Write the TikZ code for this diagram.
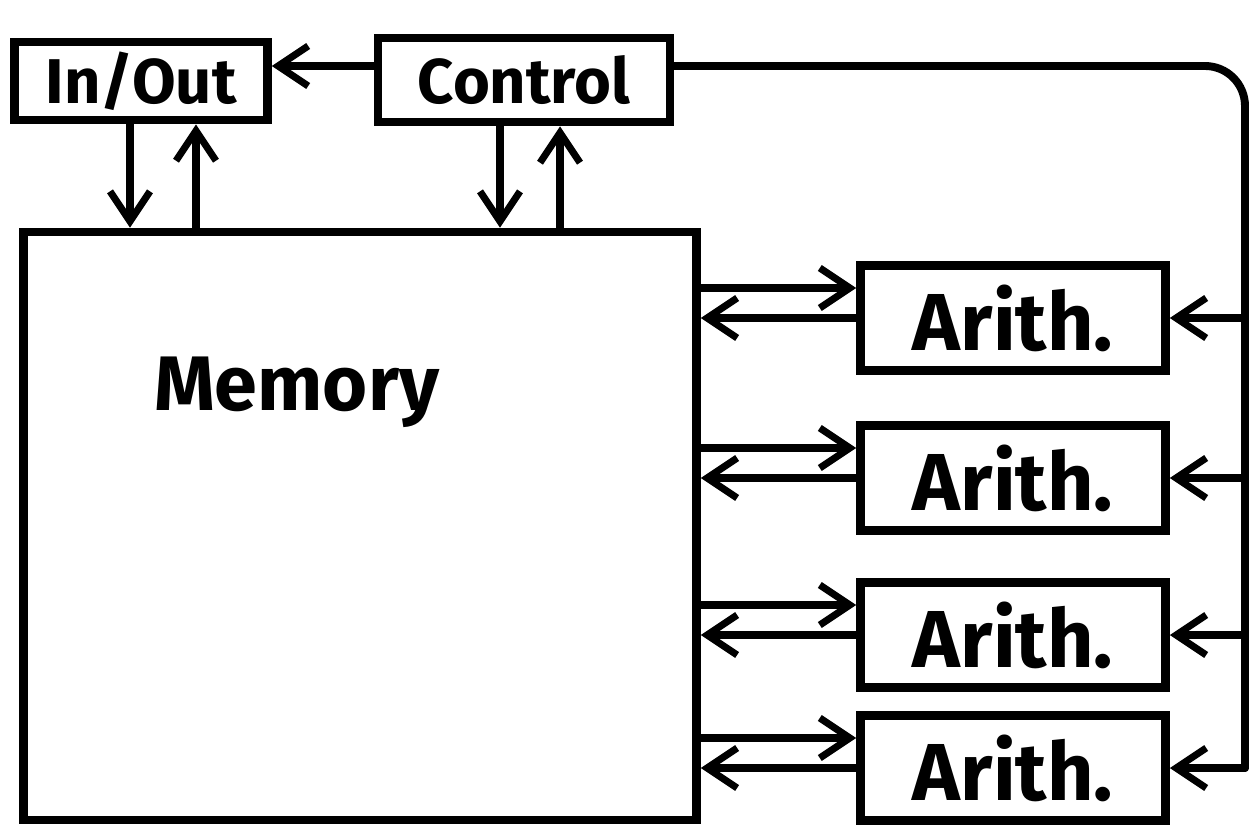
\documentclass[tikz,border=0pt]{standalone}
\usepackage{fontspec}
\setmainfont{Fira Sans}
\usepackage{tikz}
\usetikzlibrary{arrows.meta,positioning,calc}

\begin{document}
\begin{tikzpicture}[
  x=0.02cm, y=-0.02cm,
  box/.style={draw, line width=5pt, minimum width=6.1cm, minimum height=2.1cm, inner sep=0pt, align=center, font=\fontsize{46}{50}\selectfont\bfseries},
  topbox/.style={box, font=\fontsize{36}{40}\selectfont\bfseries},
  wire/.style={line width=4.5pt, line cap=round},
  arrow/.style={wire, -{Straight Barb[length=6mm, width=8mm, line width=4pt]}}
]
  \useasboundingbox (0,0) rectangle (1255,831);
  % top row
  \node[topbox, minimum width=5.06cm, minimum height=1.56cm] (io) at (141,81) {In/Out};
  \node[topbox, minimum width=5.84cm, minimum height=1.68cm] (ctrl) at (524,80) {Control};
  % memory block
  \node[box, minimum width=13.46cm, minimum height=11.76cm] (mem) at (360,526) {};
  \node[anchor=base west, font=\fontsize{44}{48}\selectfont\bfseries] (memtext) at (148,410) {Memory};
  % arithmetic units
  \node[box] (a1) at (1013,318) {Arith.};
  \node[box] (a2) at (1013,478) {Arith.};
  \node[box] (a3) at (1013,635) {Arith.};
  \node[box] (a4) at (1013,768) {Arith.};
  \coordinate (busT) at (1245,66);
  % connectors
  \draw[arrow] (ctrl.west |- busT) -- (io.east |- busT);
  \draw[arrow] (io.south -| 130,0) -- (mem.north -| 130,0);
  \draw[arrow] (mem.north -| 196,0) -- (io.south -| 196,0);
  \draw[arrow] (ctrl.south -| 500,0) -- (mem.north -| 500,0);
  \draw[arrow] (mem.north -| 560,0) -- (ctrl.south -| 560,0);
  \foreach \i in {1,...,4} {
    \draw[arrow] ($(mem.east |- a\i.west)+(0,-30)$) -- ($(a\i.west)+(0,-30)$);
    \draw[arrow] (a\i.west) -- (mem.east |- a\i.west);
  }
  \draw[wire, rounded corners=8mm] (ctrl.east |- busT) -- (busT) -- (busT |- a4.east);
  \foreach \i in {1,...,4}
    \draw[arrow] (busT |- a\i.east) -- (a\i.east);
\end{tikzpicture}
\end{document}
